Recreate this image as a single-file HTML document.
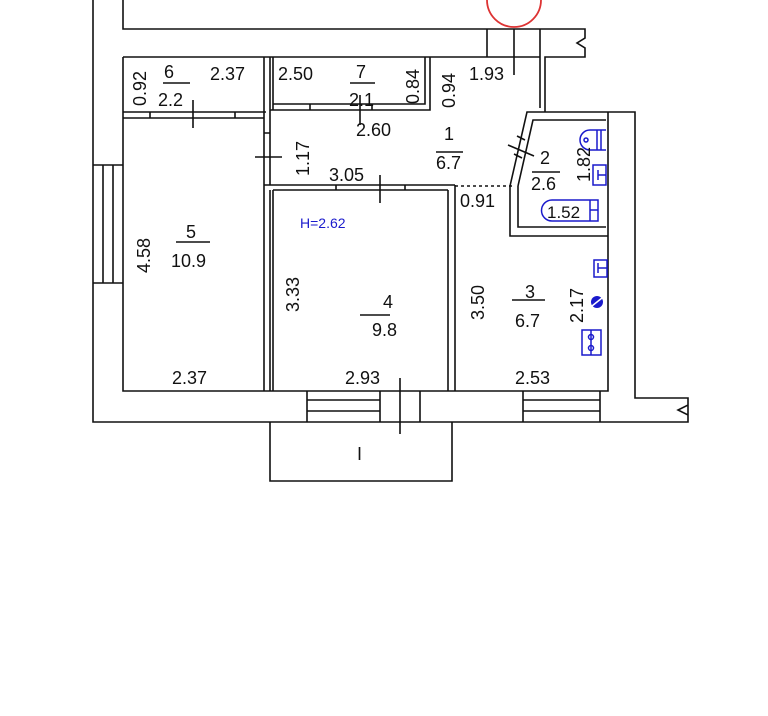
<!DOCTYPE html>
<html><head><style>body{margin:0;background:#fff}svg{display:block}text{font-family:"Liberation Sans",sans-serif;font-size:18px;fill:#111}</style></head><body>
<svg width="768" height="716" viewBox="0 0 768 716" xmlns="http://www.w3.org/2000/svg">
<g stroke="#111" stroke-width="1.6" fill="none">
<path d="M93 0V422H688V405l-10 5 10 5V398H635V112H608"/>
<path d="M123 0V29H585V38l-8 5 8 5V57H545V112"/>
<path d="M540 57V108"/>
<path d="M123 57V391H608V112"/>
<path d="M123 57H540"/>
<path d="M487 29V57M540 29V57M514 29V75"/>
<path d="M93 165H123M93 283H123M103 165V283M113 165V283"/>
<path d="M123 112H266M123 118H264M150 112V118M235 112V118"/>
<path d="M193 100V128"/>
<path d="M264 57V391M270 57V185M270 190V391M264 118V391"/>
<path d="M264 133H270M264 185H270"/>
<path d="M255 157H282"/>
<path d="M273 57V104H425V57M430 57V110H270M273 104V110M310 104V110M372 104V110"/>
<path d="M360 95V125"/>
<path d="M270 185H455M273 190H448M336 185V190M405 185V190"/>
<path d="M380 175V203"/>
<path d="M273 190V391M448 190V391M455 185V391"/>
<path d="M455 186H512" stroke-dasharray="3 3"/>
<path d="M510 186L527 112H608M518 186L533 120H606M510 186V236H608M518 186V227H606"/>
<path d="M517 136L525 140M514 154L522 158M508 145L534 156"/>
<path d="M307 391V422M380 391V422M420 391V422M307 400H380M307 411H380M400 378V434"/>
<path d="M523 391V422M600 391V422M523 400H600M523 411H600"/>
<path d="M270 422V481H452V422"/>
<path d="M163 83H190M350 83H375M176 242H210M360 315H390M436 152H463M532 172H560M512 300H545"/>
</g>
<circle cx="514" cy="0" r="27" stroke="#d33" stroke-width="1.8" fill="none"/>
<g stroke="#1a1acc" stroke-width="1.5" fill="none">
<path d="M606 130H590a10 10 0 0 0 0 20H606M597 130V150M601 130V150"/>
<circle cx="586" cy="140" r="2"/>
<rect x="593" y="165" width="13" height="20"/><path d="M598 175H606M598 170V180"/>
<path d="M552 200H598V221H552a10 10 0 0 1 0-21zM590 200V221M590 210H598"/>
<rect x="594" y="260" width="13" height="17"/><path d="M598 268H607M598 263V273"/>
<rect x="582" y="330" width="19" height="25"/><path d="M591 330V355"/><circle cx="591" cy="337" r="2.5"/><circle cx="591" cy="348" r="2.5"/>
</g>
<circle cx="597" cy="302" r="6" fill="#1a1acc"/>
<path d="M592 306L602 298" stroke="#fff" stroke-width="1.5"/>
<text x="164" y="78">6</text><text x="158" y="106">2.2</text><text x="210" y="80">2.37</text>
<text x="146" y="106" transform="rotate(-90 146 106)">0.92</text>
<text x="278" y="80">2.50</text><text x="356" y="78">7</text><text x="349" y="106">2.1</text>
<text x="419" y="104" transform="rotate(-90 419 104)">0.84</text>
<text x="455" y="108" transform="rotate(-90 455 108)">0.94</text>
<text x="469" y="80">1.93</text><text x="356" y="136">2.60</text>
<text x="444" y="140">1</text><text x="436" y="169">6.7</text>
<text x="309" y="176" transform="rotate(-90 309 176)">1.17</text>
<text x="329" y="181">3.05</text><text x="460" y="207">0.91</text>
<text x="540" y="164">2</text><text x="531" y="190">2.6</text>
<text x="590" y="182" transform="rotate(-90 590 182)">1.82</text>
<text x="547" y="218" style="font-size:17px">1.52</text>
<text x="300" y="228" style="font-size:14px;fill:#1a1acc">H=2.62</text>
<text x="186" y="238">5</text><text x="171" y="267">10.9</text>
<text x="150" y="273" transform="rotate(-90 150 273)">4.58</text>
<text x="383" y="308">4</text><text x="372" y="336">9.8</text>
<text x="299" y="312" transform="rotate(-90 299 312)">3.33</text>
<text x="484" y="320" transform="rotate(-90 484 320)">3.50</text>
<text x="525" y="298">3</text><text x="515" y="327">6.7</text>
<text x="583" y="323" transform="rotate(-90 583 323)">2.17</text>
<text x="172" y="384">2.37</text><text x="345" y="384">2.93</text><text x="515" y="384">2.53</text>
<text x="357" y="460">I</text>
</svg>
</body></html>
